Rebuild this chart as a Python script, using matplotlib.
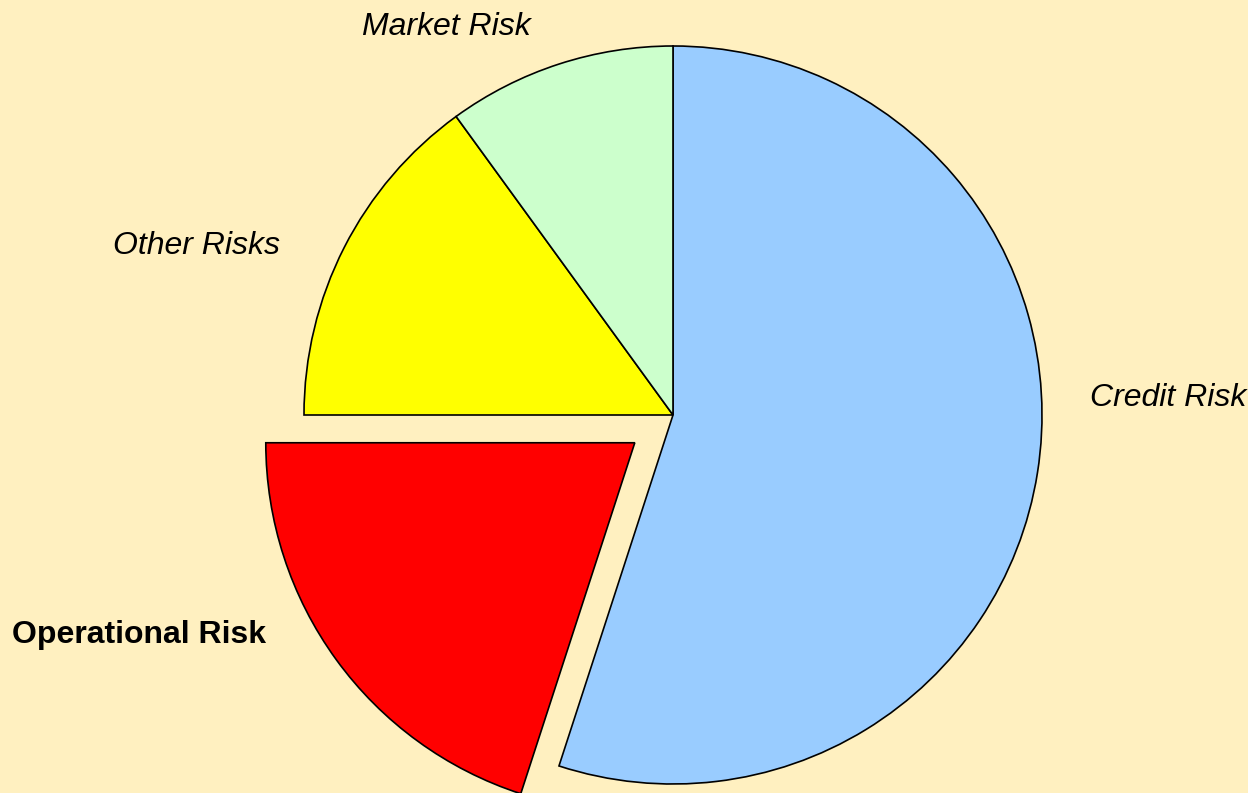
import matplotlib
matplotlib.use("Agg")
import matplotlib.pyplot as plt

labels = ["Credit Risk", "Operational Risk", "Other Risks", "Market Risk"]
values = [55, 20, 15, 10]
colors = ["#99CCFF", "#FF0000", "#FFFF00", "#CCFFCC"]
explode = [0, 0.128, 0, 0]
label_styles = ["italic", "normal", "italic", "italic"]
label_weights = ["normal", "bold", "normal", "normal"]
label_pos = [(1.130, 0.046), (-1.791, -0.596), (-1.518, 0.458), (-0.843, 1.052)]

bg = "#FFF0C0"
fig = plt.figure(figsize=(12.48, 7.93), dpi=100, facecolor=bg)
ax = fig.add_axes([0, 0, 1, 1])
ax.set_facecolor(bg)

ax.pie(values, colors=colors, explode=explode, startangle=90, counterclock=False,
       radius=1.0, wedgeprops=dict(edgecolor="black", linewidth=1.2))

for lab, (x, y), st, wt in zip(labels, label_pos, label_styles, label_weights):
    ax.text(x, y, lab, ha="left", va="center", fontsize=23,
            family=["Liberation Sans", "DejaVu Sans"], style=st, weight=wt,
            color="black")

ax.set_aspect("auto")
ax.set_xlim(-673 / 369, (1248 - 673) / 369)
ax.set_ylim(-(793 - 415) / 369, 415 / 369)
ax.axis("off")

fig.savefig("out.png", dpi=100, facecolor=bg)
